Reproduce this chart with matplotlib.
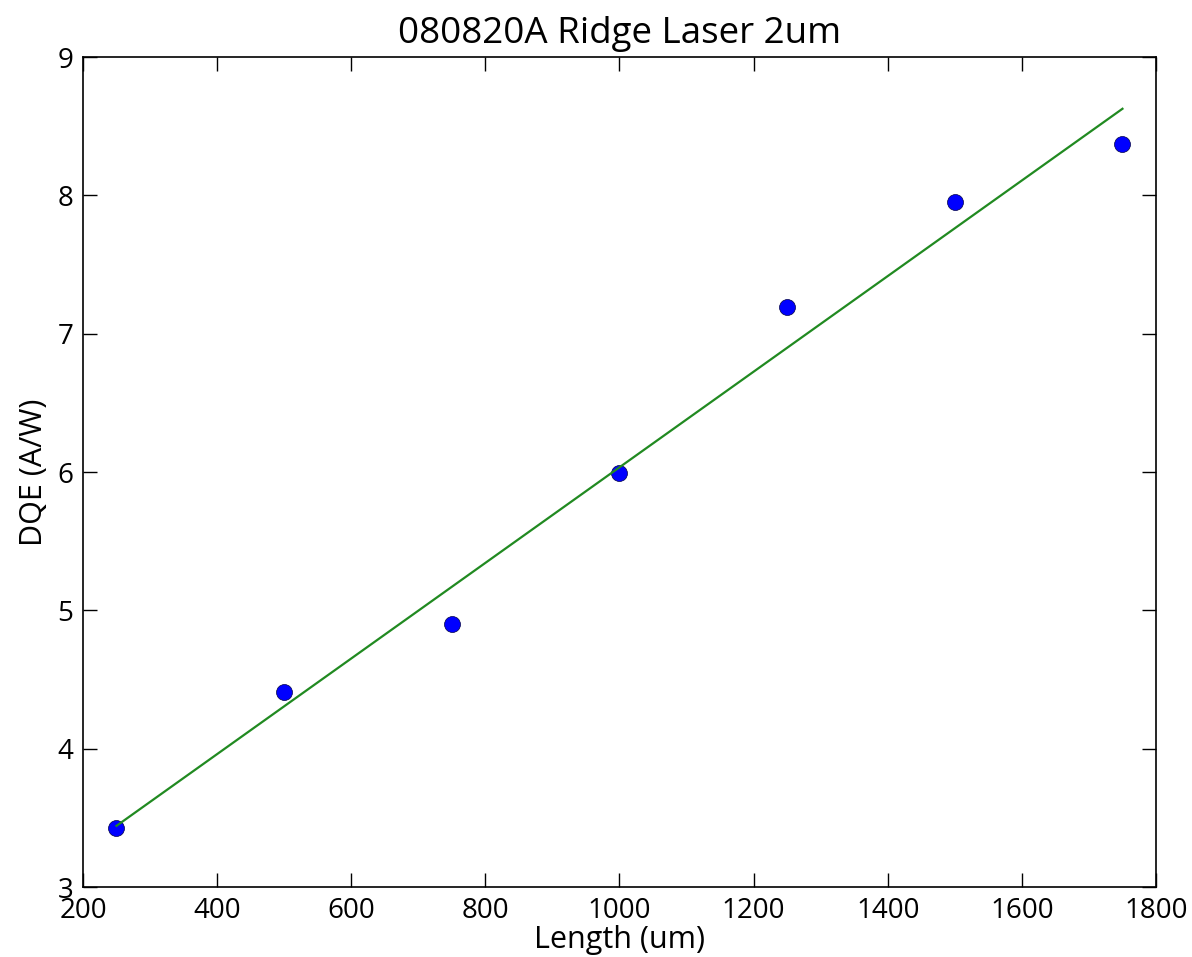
import numpy as np
import matplotlib.pyplot as plt

plt.rcParams['font.family'] = ['Open Sans', 'DejaVu Sans']

# measured data
length_um = [250, 500, 750, 1000, 1250, 1500, 1750]
dqe = [3.43, 4.41, 4.90, 5.99, 7.19, 7.95, 8.37]

# linear fit
coef = np.polyfit(length_um, dqe, 1)
fit = np.polyval(coef, length_um)

fig = plt.figure(figsize=(11.92, 9.57), dpi=100)
ax = fig.add_axes([0.0696, 0.0731, 0.9002, 0.8673])

ax.plot(length_um, dqe, 'o', color='#0000ff', markersize=11.5, markeredgecolor='#000044', markeredgewidth=0.5)
ax.plot(length_um, fit, '-', color='#218a21', linewidth=1.6)

ax.set_xlim(200, 1800)
ax.set_ylim(3, 9)
ax.set_xticks(range(200, 1801, 200))
ax.set_yticks(range(3, 10))

ax.tick_params(direction='in', length=10, width=1, top=True, right=True,
               labelsize=20, pad=7)
for s in ax.spines.values():
    s.set_linewidth(1.2)

ax.set_title('080820A Ridge Laser 2um', fontsize=26.5, pad=10)
ax.set_xlabel('Length (um)', fontsize=22, labelpad=0)
ax.set_ylabel('DQE (A/W)', fontsize=22, labelpad=6)

fig.savefig('out.png', dpi=100)
